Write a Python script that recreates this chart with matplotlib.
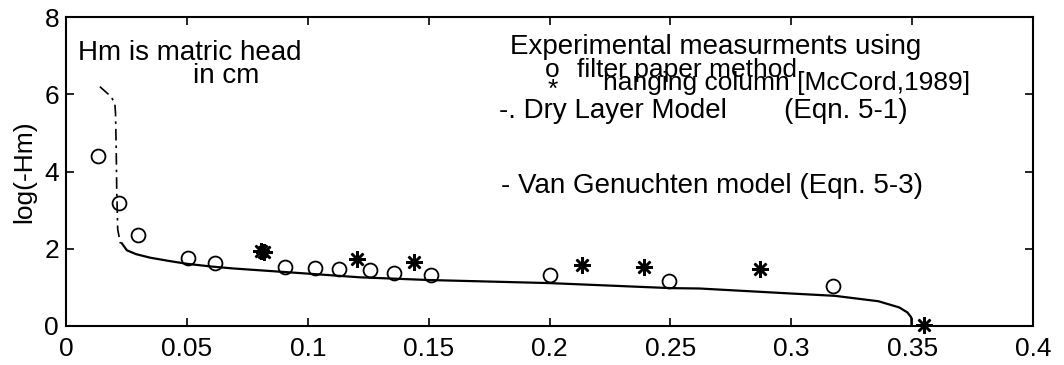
import matplotlib
matplotlib.use('Agg')
from matplotlib import pyplot as plt

plt.rcParams['font.family'] = ['Liberation Sans', 'DejaVu Sans']

# puntos experimentales, metodo del papel filtro (circulos)
filtro_x = [0.0132, 0.0219, 0.0298, 0.0504, 0.0616, 0.0905, 0.103, 0.113,
            0.1256, 0.1355, 0.151, 0.200, 0.2496, 0.3174]
filtro_y = [4.41, 3.18, 2.35, 1.76, 1.63, 1.53, 1.50, 1.47,
            1.44, 1.38, 1.32, 1.31, 1.16, 1.04]

# columna colgante [McCord,1989] (asteriscos)
columna_x = [0.0805, 0.0818, 0.1202, 0.144, 0.2136, 0.239, 0.287, 0.355]
columna_y = [1.95, 1.91, 1.73, 1.66, 1.57, 1.53, 1.47, 0.02]

# modelo de capa seca (Eqn. 5-1), linea punto-raya
seca_x = [0.014, 0.0185, 0.0202, 0.0205, 0.0208, 0.021, 0.0214, 0.0225]
seca_y = [6.2, 5.95, 5.78, 5.5, 4.5, 3.5, 2.5, 2.14]

# modelo de Van Genuchten (Eqn. 5-3), linea continua
vg_x = [0.0231, 0.0252, 0.0290, 0.0347, 0.042, 0.05, 0.06, 0.069, 0.0967,
        0.1215, 0.15, 0.2, 0.25, 0.262, 0.3, 0.318, 0.336, 0.3446, 0.348,
        0.3496, 0.3497]
vg_y = [2.14, 1.96, 1.86, 1.77, 1.69, 1.61, 1.54, 1.49, 1.37,
        1.26, 1.19, 1.11, 0.98, 0.97, 0.84, 0.78, 0.64, 0.48, 0.35,
        0.22, 0.0]

fig = plt.figure(figsize=(10.64, 3.65), dpi=100)
ax = fig.add_axes([0.062, 0.107, 0.909, 0.846])

ax.plot(vg_x, vg_y, color='black', linewidth=1.6)
ax.plot(seca_x, seca_y, color='black', linewidth=1.2, linestyle=(0, (7, 3, 1.5, 3)))
ax.plot(filtro_x, filtro_y, linestyle='none', marker='o', markersize=10,
        markerfacecolor='none', markeredgecolor='black', markeredgewidth=1.3)
ax.plot(columna_x, columna_y, linestyle='none', marker=(8, 2, 0), markersize=12,
        color='black', markeredgewidth=1.8, clip_on=False)

ax.set_xlim(0, 0.4)
ax.set_ylim(0, 8)
ax.set_xticks([0, 0.05, 0.1, 0.15, 0.2, 0.25, 0.3, 0.35, 0.4])
ax.set_xticklabels(['0', '0.05', '0.1', '0.15', '0.2', '0.25', '0.3', '0.35', '0.4'])
ax.set_yticks([0, 2, 4, 6, 8])
ax.tick_params(direction='in', length=6, width=1.2, top=True, right=True,
               labelsize=19)
ax.tick_params(axis='x', pad=8)
ax.tick_params(axis='y', pad=5)
for s in ax.spines.values():
    s.set_linewidth(1.5)
ax.set_ylabel('log(-Hm)', fontsize=19, labelpad=6)

fs = 20
ax.text(0.005, 6.9, 'Hm is matric head', fontsize=fs, va='baseline')
ax.text(0.0525, 6.3, 'in cm', fontsize=fs, va='baseline')
ax.text(0.1835, 7.04, 'Experimental measurments using', fontsize=fs, va='baseline')
ax.text(0.2012, 6.62, 'o', fontsize=19, va='center', ha='center')
ax.text(0.2012, 6.12, '*', fontsize=19, va='center', ha='center')
ax.text(0.2112, 6.46, 'filter paper method', fontsize=19, va='baseline')
ax.text(0.222, 6.1, 'hanging column [McCord,1989]', fontsize=19, va='baseline')
ax.text(0.179, 5.4, '-. Dry Layer Model', fontsize=fs, va='baseline')
ax.text(0.297, 5.4, '(Eqn. 5-1)', fontsize=fs, va='baseline')
ax.text(0.180, 3.45, '- Van Genuchten model (Eqn. 5-3)', fontsize=fs, va='baseline')

fig.savefig('out.png', dpi=100)
